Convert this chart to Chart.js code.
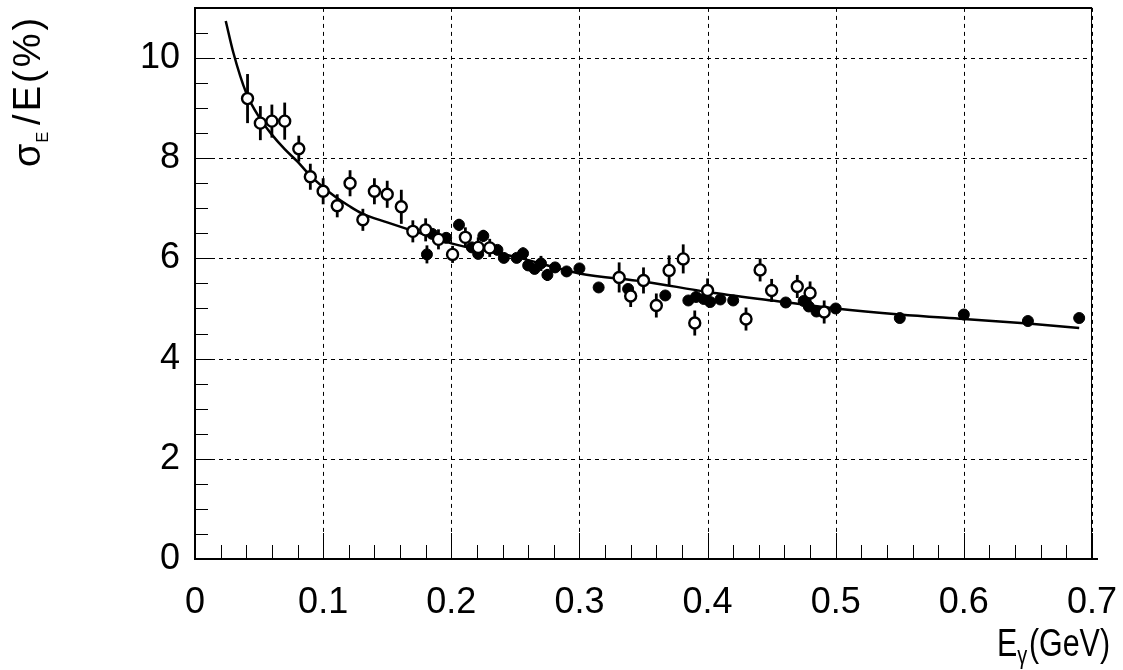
<!DOCTYPE html>
<html>
<head>
<meta charset="utf-8">
<script src="https://cdn.jsdelivr.net/npm/chart.js@4.4.1/dist/chart.umd.min.js"></script>
<style>
html,body{margin:0;padding:0;background:#fff}
</style>
</head>
<body>
<canvas id="resChart" width="1123" height="670"></canvas>
<script>
// ======================
// DATA
// ======================
const xTicks = [0, 0.1, 0.2, 0.3, 0.4, 0.5, 0.6, 0.7];
const yTicks = [0, 2, 4, 6, 8, 10];

// open circles
const openX   = [0.041,0.051,0.060,0.070,0.081,0.090,0.100,0.111,0.121,0.131,0.140,0.150,0.161,0.170,0.180,0.190,0.201,0.211,0.221,0.230,0.331,0.340,0.350,0.360,0.370,0.381,0.390,0.400,0.430,0.441,0.450,0.470,0.480,0.491];
const openY   = [9.19,8.70,8.74,8.74,8.19,7.63,7.34,7.05,7.50,6.77,7.34,7.28,7.03,6.54,6.57,6.38,6.08,6.42,6.22,6.21,5.62,5.25,5.56,5.06,5.76,5.99,4.71,5.36,4.79,5.77,5.36,5.44,5.31,4.93];
const openErr = [0.49,0.34,0.33,0.37,0.26,0.26,0.26,0.23,0.26,0.22,0.26,0.27,0.34,0.22,0.23,0.20,0.17,0.20,0.20,0.18,0.30,0.22,0.26,0.24,0.30,0.29,0.25,0.24,0.23,0.23,0.23,0.23,0.23,0.23];

// filled circles
const fillX   = [0.181,0.185,0.196,0.206,0.216,0.221,0.225,0.236,0.241,0.251,0.256,0.260,0.265,0.270,0.275,0.281,0.290,0.300,0.315,0.338,0.367,0.385,0.391,0.397,0.402,0.410,0.420,0.461,0.475,0.479,0.485,0.500,0.550,0.600,0.650,0.690];
const fillY   = [6.08,6.49,6.41,6.67,6.22,6.09,6.45,6.17,6.01,6.01,6.10,5.86,5.79,5.90,5.67,5.82,5.74,5.80,5.42,5.39,5.26,5.16,5.23,5.19,5.13,5.18,5.16,5.12,5.15,5.04,4.94,5.00,4.81,4.88,4.75,4.81];
const fillErr = [0.18,0.10,0.10,0.12,0.10,0.10,0.12,0.10,0.10,0.10,0.12,0.10,0.10,0.15,0.12,0.10,0.10,0.10,0.08,0.08,0.08,0.08,0.08,0.08,0.08,0.08,0.08,0.08,0.08,0.08,0.08,0.08,0.08,0.09,0.08,0.08];

// fit curve
const fitX = [0.024,0.030,0.040,0.050,0.060,0.070,0.080,0.090,0.100,0.110,0.120,0.130,0.150,0.170,0.180,0.200,0.250,0.300,0.350,0.400,0.450,0.500,0.550,0.600,0.650,0.690];
const fitY = [10.74,10.10,9.30,8.82,8.47,8.18,7.93,7.65,7.42,7.22,7.05,6.90,6.72,6.55,6.47,6.30,6.03,5.70,5.54,5.33,5.16,5.00,4.88,4.79,4.70,4.61];

const pts = (xs, ys) => xs.map((v,i)=>({x:v, y:ys[i]}));

// ======================
// FRAME / GRID / ERRORS / TITLES
// ======================
const FONT = "'Liberation Sans', Arial, sans-serif";

const pawFrame = {
  id: "pawFrame",
  beforeDatasetsDraw(chart){
    const {ctx, chartArea:a, scales:{x, y}} = chart;
    ctx.save();
    // dashed grid
    ctx.strokeStyle = "#000";
    ctx.lineWidth = 1;
    ctx.setLineDash([4,4]);
    xTicks.forEach(v=>{
      if(v===0) return;
      const px = Math.round(x.getPixelForValue(v)) + 0.5;
      ctx.beginPath(); ctx.moveTo(px, a.top); ctx.lineTo(px, a.bottom); ctx.stroke();
    });
    yTicks.forEach(v=>{
      if(v===0) return;
      const py = Math.round(y.getPixelForValue(v)) + 0.5;
      ctx.beginPath(); ctx.moveTo(a.left, py); ctx.lineTo(a.right, py); ctx.stroke();
    });
    ctx.setLineDash([]);
    // error bars
    ctx.lineWidth = 2.8;
    [[openX,openY,openErr],[fillX,fillY,fillErr]].forEach(([xs,ys,es])=>{
      xs.forEach((v,i)=>{
        const px = x.getPixelForValue(v);
        ctx.beginPath();
        ctx.moveTo(px, y.getPixelForValue(ys[i]-es[i]));
        ctx.lineTo(px, y.getPixelForValue(ys[i]+es[i]));
        ctx.stroke();
      });
    });
    ctx.restore();
  },
  afterDraw(chart){
    const {ctx, chartArea:a, scales:{x, y}} = chart;
    ctx.save();
    ctx.strokeStyle = "#000";
    // frame
    ctx.lineWidth = 2;
    ctx.beginPath();
    ctx.moveTo(a.right, a.top); ctx.lineTo(a.left, a.top);
    ctx.lineTo(a.left, a.bottom); ctx.lineTo(a.right + 6, a.bottom);
    ctx.stroke();
    ctx.lineWidth = 1;
    ctx.beginPath(); ctx.moveTo(a.right-0.5, a.top); ctx.lineTo(a.right-0.5, a.bottom); ctx.stroke();

    // inner ticks
    for(let k=0; k<=35; k++){
      const px = Math.round(x.getPixelForValue(k*0.02)) + 0.5;
      const len = (k % 5 === 0) ? 26 : 14;
      ctx.beginPath(); ctx.moveTo(px, a.bottom); ctx.lineTo(px, a.bottom - len); ctx.stroke();
    }
    for(let k=0; k<=22; k++){
      const py = Math.round(y.getPixelForValue(k*0.5)) + 0.5;
      const len = (k % 4 === 0) ? 20 : 13;
      ctx.beginPath(); ctx.moveTo(a.left, py); ctx.lineTo(a.left + len, py); ctx.stroke();
    }

    // x title: E_gamma(GeV)
    ctx.fillStyle = "#000";
    ctx.textBaseline = "alphabetic";
    ctx.textAlign = "left";
    const big = "38px " + FONT, small = "25px " + FONT;
    ctx.save();
    ctx.translate(1110, 0);
    ctx.scale(0.8, 1);
    ctx.font = big;  const wE = ctx.measureText("E").width, wG = ctx.measureText("(GeV)").width;
    ctx.font = small; const wg = ctx.measureText("γ").width;
    let sx = -(wE + wg + wG + 2);
    ctx.font = big;  ctx.fillText("E", sx, 656); sx += wE;
    ctx.font = small; ctx.fillText("γ", sx, 664); sx += wg + 2;
    ctx.font = big;  ctx.fillText("(GeV)", sx, 656);
    ctx.restore();

    // y title: sigma_E / E(%)
    ctx.translate(40, 167);
    ctx.rotate(-Math.PI/2);
    ctx.letterSpacing = "3px";
    let tx = 0;
    ctx.font = "38px " + FONT; ctx.fillText("σ", tx, 0); tx += ctx.measureText("σ").width;
    ctx.font = "16px " + FONT; ctx.fillText("E", tx - 2, 8); tx += ctx.measureText("E").width + 2;
    ctx.font = "38px " + FONT; ctx.fillText("/E(%)", tx, 0);
    ctx.restore();
  }
};

// no label-overhang padding: the plot frame is placed by layout.padding only
const noPad = s => { s.paddingLeft = 0; s.paddingRight = 0; s.paddingTop = 0; s.paddingBottom = 0; };

// ======================
// CHART
// ======================
new Chart(document.getElementById("resChart"), {
  type: "scatter",
  data: {
    datasets: [
      {
        label: "fit",
        type: "line",
        data: pts(fitX, fitY),
        borderColor: "#000",
        borderWidth: 2.5,
        pointRadius: 0,
        fill: false,
        cubicInterpolationMode: "monotone",
        order: 3
      },
      {
        label: "filled",
        data: pts(fillX, fillY),
        pointRadius: 5.5,
        pointBackgroundColor: "#000",
        pointBorderColor: "#000",
        pointBorderWidth: 1,
        order: 2
      },
      {
        label: "open",
        data: pts(openX, openY),
        pointRadius: 5.5,
        pointBackgroundColor: "#fff",
        pointBorderColor: "#000",
        pointBorderWidth: 2.4,
        order: 1
      }
    ]
  },
  options: {
    responsive: false,
    devicePixelRatio: 1,
    animation: false,
    layout: { padding: { left: 0, top: 7, right: 31, bottom: 0 } },
    plugins: { legend: { display: false }, tooltip: { enabled: false } },
    scales: {
      x: {
        type: "linear", min: 0, max: 0.7,
        afterBuildTicks: s => { s.ticks = xTicks.map(v=>({value:v})); },
        afterFit: s => { s.height = 111; noPad(s); },
        grid: { display: false, drawTicks: false },
        border: { display: false },
        ticks: {
          padding: 22,
          color: "#000",
          font: { family: FONT, size: 36 },
          maxRotation: 0,
          callback: v => v === 0 ? "0" : v.toFixed(1)
        }
      },
      y: {
        type: "linear", min: 0, max: 11,
        afterBuildTicks: s => { s.ticks = yTicks.map(v=>({value:v})); },
        afterFit: s => { s.width = 195; noPad(s); },
        grid: { display: false, drawTicks: false },
        border: { display: false },
        ticks: {
          padding: 15,
          color: "#000",
          font: { family: FONT, size: 36 },
          callback: v => String(v)
        }
      }
    }
  },
  plugins: [pawFrame]
});
</script>
</body>
</html>
